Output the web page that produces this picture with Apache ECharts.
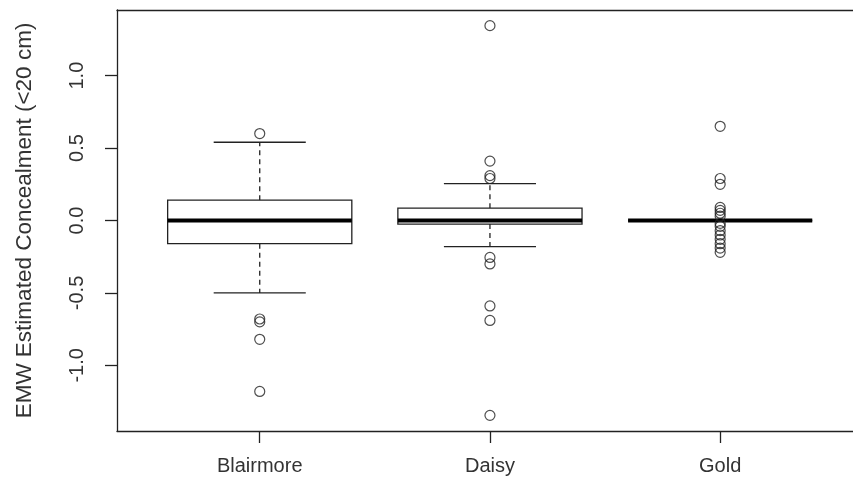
<!DOCTYPE html>
<html>
<head>
<meta charset="utf-8">
<script src="https://cdn.jsdelivr.net/npm/echarts@6/dist/echarts.min.js"></script>
<style>html,body{margin:0;padding:0;background:#fff}#c{width:853px;height:485px}</style>
</head>
<body>
<div id="c"></div>
<script>
var categories = ['Blairmore', 'Daisy', 'Gold'];
var lowerWhisker = [-0.50, -0.18, 0.0];
var q1 = [-0.16, -0.025, 0.0];
var median = [0.0, 0.0, 0.0];
var q3 = [0.14, 0.085, 0.0];
var upperWhisker = [0.54, 0.255, 0.0];
var blairmoreOutliers = [0.60, -0.68, -0.70, -0.82, -1.18];
var daisyOutliers = [1.345, 0.41, 0.31, 0.29, -0.255, -0.30, -0.59, -0.69, -1.345];
var goldOutliers = [0.65, 0.29, 0.25, 0.09, 0.07, 0.05, 0.03, -0.02, -0.04, -0.07, -0.10, -0.13, -0.16, -0.19, -0.22];
var yTicks = [-1.0, -0.5, 0.0, 0.5, 1.0];
var xTicks = [1, 2, 3];
var yTitle = 'EMW Estimated Concealment (<20 cm)';

var ink = '#222';
var txt = '#333';
var font = 'Liberation Sans, Arial, sans-serif';

var boxData = categories.map(function (c, i) {
  return [i + 1, lowerWhisker[i], q1[i], median[i], q3[i], upperWhisker[i]];
});
var outlierData = [];
[blairmoreOutliers, daisyOutliers, goldOutliers].forEach(function (arr, i) {
  arr.forEach(function (v) { outlierData.push([i + 1, v]); });
});

function renderBox(params, api) {
  var x = api.value(0);
  var lo = api.coord([x, api.value(1)]);
  var b1 = api.coord([x, api.value(2)]);
  var md = api.coord([x, api.value(3)]);
  var b3 = api.coord([x, api.value(4)]);
  var hi = api.coord([x, api.value(5)]);
  var halfBox = api.size([0.4, 0])[0];
  var halfCap = api.size([0.2, 0])[0];
  var cx = md[0];
  var thin = {stroke: ink, lineWidth: 1.3, fill: null};
  var dashed = {stroke: ink, lineWidth: 1.3, lineDash: [5, 4], fill: null};
  return {
    type: 'group',
    children: [
      {type: 'line', shape: {x1: cx, y1: b3[1], x2: cx, y2: hi[1]}, style: dashed},
      {type: 'line', shape: {x1: cx, y1: b1[1], x2: cx, y2: lo[1]}, style: dashed},
      {type: 'line', shape: {x1: cx - halfCap, y1: hi[1], x2: cx + halfCap, y2: hi[1]}, style: thin},
      {type: 'line', shape: {x1: cx - halfCap, y1: lo[1], x2: cx + halfCap, y2: lo[1]}, style: thin},
      {type: 'rect', shape: {x: cx - halfBox, y: b3[1], width: 2 * halfBox, height: b1[1] - b3[1]},
        style: {stroke: ink, lineWidth: 1.3, fill: '#fff'}},
      {type: 'line', shape: {x1: cx - halfBox, y1: md[1], x2: cx + halfBox, y2: md[1]},
        style: {stroke: '#000', lineWidth: 4, fill: null}}
    ]
  };
}

var xMin = 0.38, xMax = 3.577;
var chart = echarts.init(document.getElementById('c'), null, {renderer: 'canvas'});
chart.setOption({
  animation: false,
  backgroundColor: '#fff',
  grid: {left: 117, top: 10, right: 0, bottom: 54, show: false},
  xAxis: [{
    type: 'value', min: xMin, max: xMax,
    splitLine: {show: false},
    axisLine: {show: true, onZero: false, lineStyle: {color: ink, width: 1.3}},
    axisTick: {show: true, customValues: xTicks, length: 12, lineStyle: {color: ink, width: 1.3}},
    axisLabel: {customValues: xTicks, margin: 25, color: txt, fontSize: 20, fontFamily: font,
      formatter: function (v) { return categories[Math.round(v) - 1] || ''; }}
  }, {
    type: 'value', min: xMin, max: xMax, position: 'top',
    splitLine: {show: false},
    axisLine: {show: true, onZero: false, lineStyle: {color: ink, width: 1.3}},
    axisTick: {show: false}, axisLabel: {show: false}
  }],
  yAxis: {
    type: 'value', min: -1.453, max: 1.453,
    splitLine: {show: false},
    name: yTitle, nameLocation: 'middle', nameGap: 81, nameRotate: 90,
    nameTextStyle: {color: txt, fontSize: 22.5, fontFamily: font},
    axisLine: {show: true, onZero: false, lineStyle: {color: ink, width: 1.3}},
    axisTick: {show: true, customValues: yTicks, length: 12, lineStyle: {color: ink, width: 1.3}},
    axisLabel: {customValues: yTicks, rotate: 90, margin: 30, color: txt, fontSize: 20, fontFamily: font,
      formatter: function (v) { return v.toFixed(1); }}
  },
  series: [
    {type: 'custom', coordinateSystem: 'cartesian2d', renderItem: renderBox, data: boxData,
      encode: {x: 0, y: [1, 2, 3, 4, 5]}, silent: true, clip: false},
    {type: 'scatter', data: outlierData, symbol: 'circle', symbolSize: 10,
      itemStyle: {color: 'rgba(255,255,255,0)', borderColor: ink, borderWidth: 1.2}, silent: true, z: 5}
  ]
});
</script>
</body>
</html>
